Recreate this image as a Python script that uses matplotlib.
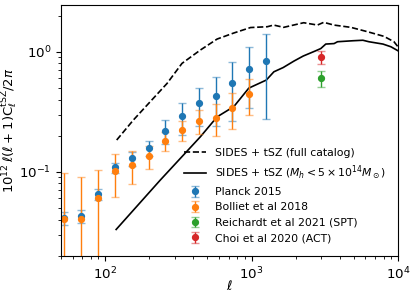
import numpy as np
import matplotlib
matplotlib.use("Agg")
import matplotlib.pyplot as plt

# Planck 2015
ell_planck = [52.5, 68.5, 89.5, 117, 152.5, 198, 257.5, 335.5, 436.5, 567.5, 738, 959.5, 1247.5]
cl_planck = [0.0409, 0.0428, 0.0652, 0.109, 0.130, 0.1585, 0.2197, 0.2895, 0.3715, 0.43, 0.545, 0.718, 0.837]
err_planck = [0.005, 0.0053, 0.0065, 0.0105, 0.0175, 0.023, 0.048, 0.085, 0.13, 0.19, 0.28, 0.38, 0.56]

# Bolliet et al 2018
ell_bolliet = [52.5, 68.5, 89.5, 117, 152.5, 198, 257.5, 335.5, 436.5, 567.5, 738, 959.5]
cl_bolliet = [0.0401, 0.0401, 0.0607, 0.1008, 0.1144, 0.135, 0.1813, 0.2239, 0.2646, 0.2818, 0.3376, 0.4467]
err_bolliet = [0.057, 0.0497, 0.0433, 0.0388, 0.035, 0.03, 0.033, 0.043, 0.06, 0.082, 0.112, 0.15]

# Reichardt et al 2021 (SPT)
ell_spt = [3000]
cl_spt = [0.60]
err_spt = [0.095]

# Choi et al 2020 (ACT)
ell_act = [3000]
cl_act = [0.903]
err_act = [0.105]

# SIDES + tSZ (full catalog)
ell_full = [120, 156, 203, 265, 335, 447, 582, 753, 984, 1281, 1415, 1657, 2270, 2818, 3113, 3644, 4764, 6200, 8017, 9388, 10000]
cl_full = [0.184, 0.27, 0.383, 0.545, 0.80, 1.033, 1.276, 1.43, 1.591, 1.616, 1.669, 1.597, 1.745, 1.669, 1.758, 1.669, 1.597, 1.468, 1.344, 1.212, 1.10]

# SIDES + tSZ (M_h < 5e14 Msun)
ell_cut = [119, 238, 447, 582, 757, 958, 1261, 1421, 1644, 1949, 2253, 2744, 2969, 3213, 3662, 3864, 4918, 5757, 6329, 7895, 8954, 10000]
cl_cut = [0.0331, 0.0853, 0.1957, 0.287, 0.3494, 0.498, 0.581, 0.681, 0.7385, 0.8366, 0.921, 1.019, 1.063, 1.159, 1.17, 1.212, 1.235, 1.247, 1.212, 1.159, 1.10, 1.019]

fig = plt.figure(figsize=(4.15, 2.96), dpi=100)
ax = fig.add_axes([0.147, 0.136, 0.812, 0.847])

ax.plot(ell_full, cl_full, 'k--', lw=1.2, label='SIDES + tSZ (full catalog)')
ax.plot(ell_cut, cl_cut, 'k-', lw=1.2, label=r'SIDES + tSZ ($M_h < 5\times10^{14}M_\odot$)')

def eb(x, y, e, c, lab):
    cont = ax.errorbar(x, y, yerr=e, fmt='o', color=c, ms=4.2, lw=1.0,
                       capsize=2.7, capthick=1.0, label=lab)
    for cl in cont[1]:
        cl.set_alpha(0.5)
    return cont

eb(ell_planck, cl_planck, err_planck, 'tab:blue', 'Planck 2015')
eb(ell_bolliet, cl_bolliet, err_bolliet, 'tab:orange', 'Bolliet et al 2018')
eb(ell_spt, cl_spt, err_spt, 'tab:green', 'Reichardt et al 2021 (SPT)')
eb(ell_act, cl_act, err_act, 'tab:red', 'Choi et al 2020 (ACT)')

ax.set_xscale('log')
ax.set_yscale('log')
ax.set_xlim(50, 1e4)
ax.set_ylim(0.02, 2.45)
ax.tick_params(labelsize=9.6)
ax.set_xlabel(r'$\ell$', fontsize=9.6, labelpad=-2)
ax.set_ylabel(r'$10^{12}\,\ell(\ell+1)\mathrm{C}_\ell^{\mathrm{tSZ}}/2\pi$', fontsize=9.5)
ax.yaxis.set_label_coords(-0.123, 0.5)

ax.legend(loc='lower right', frameon=False, fontsize=7.8, handlelength=2.0,
          labelspacing=0.5, borderaxespad=0.75)

fig.savefig('out.png', dpi=100)
